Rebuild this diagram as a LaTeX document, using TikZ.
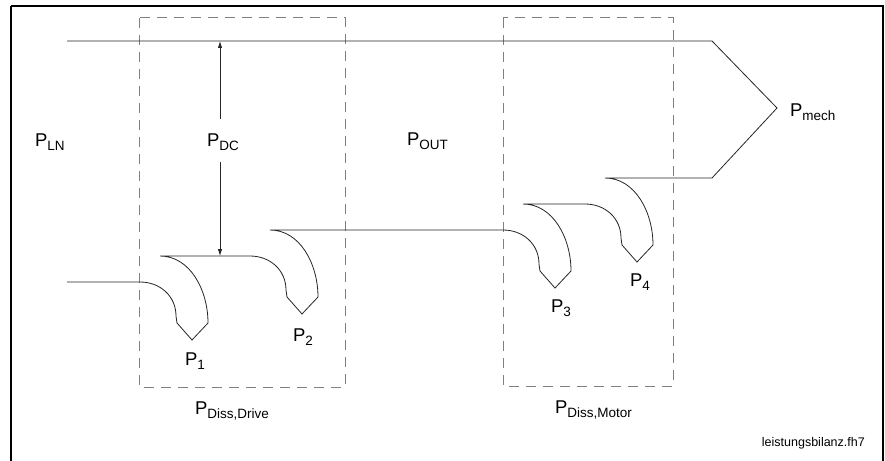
\documentclass[tikz,border=0pt]{standalone}
\usepackage{fontspec}
\setmainfont{Liberation Sans}
\usetikzlibrary{arrows.meta}
\newcommand{\Pl}[1]{{\fontsize{18.5}{18.5}\selectfont P}\raisebox{-4.5pt}{\fontsize{13.5}{13.5}\selectfont #1}}
\newcommand{\hk}[2]{-- (#1,#2) .. controls ({#1+20},#2) and ({#1+36},{#2+14}) .. ({#1+36},{#2+34}) -- ({#1+37},{#2+41}) -- ({#1+52},{#2+58}) -- ({#1+68},{#2+41}) .. controls ({#1+68},{#2+8}) and ({#1+50},{#2-26}) .. ({#1+20},{#2-26})}
\tikzset{
  flow/.style={line width=0.8pt, black!85, line join=miter},
  boxd/.style={gray, line width=1pt, dash pattern=on 10pt off 7pt},
  frame/.style={line width=2pt, black},
  arr/.style={line width=0.8pt, black!85, -{Latex[length=7pt,width=4.5pt]}},
  lbl/.style={anchor=base west, inner sep=0pt, outer sep=0pt},
}
\begin{document}
\begin{tikzpicture}[x=1pt,y=-1pt]
\useasboundingbox (0,0) rectangle (885,460);
\fill[white] (0,0) rectangle (885,460);
\draw[frame] (11,6) -- (883,6) -- (883,470);
\draw[frame] (11,6) -- (11,470);
% dashed boxes
\draw[boxd] (139,18) rectangle (345,387);
\draw[boxd] (503,18) rectangle (673,386);
% energy flow
\draw[flow] (67,282) \hk{140}{282} \hk{250}{256} \hk{503}{230} \hk{585}{204} -- (712,178) -- (777,108) -- (712,41) -- (67,41);
% DC arrows
\coordinate (dcT) at (220,41);
\coordinate (dcA) at (220,119);
\coordinate (dcB) at (220,162);
\coordinate (dcD) at (220,256);
\draw[arr] (dcA) -- (dcT);
\draw[arr] (dcB) -- (dcD);
% labels
\node[lbl] (pln) at (35,146) {\Pl{LN}};
\node[lbl] (pdc) at (207,146) {\Pl{DC}};
\node[lbl] (pout) at (407,145) {\Pl{OUT}};
\node[lbl] (pmech) at (790,116) {\Pl{mech}};
\node[lbl] (p1) at (185,365) {\Pl{1}};
\node[lbl] (p2) at (293,341) {\Pl{2}};
\node[lbl] (p3) at (551,312) {\Pl{3}};
\node[lbl] (p4) at (630,286) {\Pl{4}};
\node[lbl] (pdd) at (195,414) {\Pl{Diss,Drive}};
\node[lbl] (pdm) at (555,413) {\Pl{Diss,Motor}};
\node[anchor=base east, inner sep=0pt] (fn) at (865,446) {\fontsize{12.5}{12.5}\selectfont leistungsbilanz.fh7};
\end{tikzpicture}
\end{document}
